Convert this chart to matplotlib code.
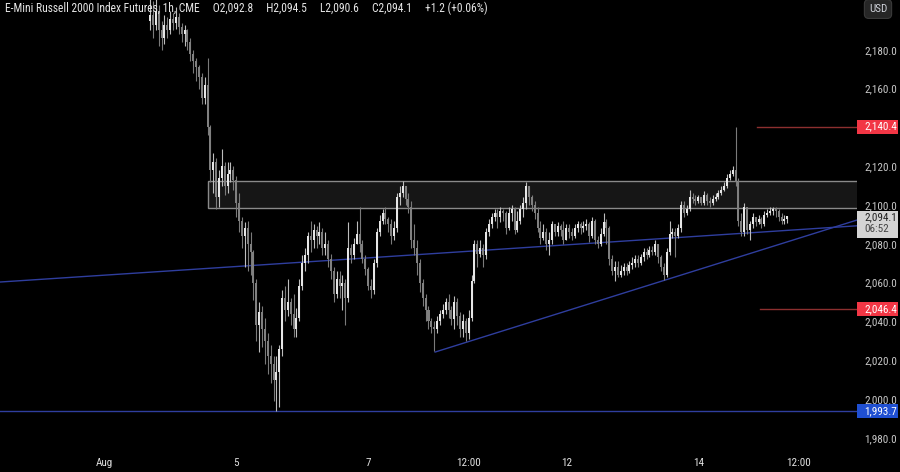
import matplotlib
matplotlib.use("Agg")
import matplotlib.pyplot as plt
from matplotlib.patches import Rectangle

# chart texts
title = "E-Mini Russell 2000 Index Futures, 1h, CME     O2,092.8     H2,094.5     L2,090.6     C2,094.1     +1.2 (+0.06%)"
x_tick_pos = [-16, 30, 76, 111, 145, 191, 226]
x_tick_labels = ["Aug", "5", "7", "12:00", "12", "14", "12:00"]
y_ticks = [1980, 2000, 2020, 2040, 2060, 2080, 2100, 2120, 2140, 2160, 2180]

# hourly candles (open of each bar = close of the bar before)
first_open = 2195.0
closes = [
    2198, 2193, 2200, 2190, 2186, 2193, 2190, 2196, 2194, 2197,
    2192, 2188, 2190, 2184, 2178, 2174, 2171, 2166, 2155, 2162,
    2140, 2118, 2122, 2104, 2114, 2120, 2110, 2116, 2118, 2113,
    2101, 2092, 2084, 2088, 2080, 2076, 2060, 2038, 2045, 2036,
    2030, 2022, 2018, 2010, 2014, 2026, 2052, 2046, 2050, 2044,
    2036, 2042, 2058, 2070, 2074, 2084, 2082, 2087, 2084, 2086,
    2078, 2080, 2072, 2066, 2054, 2062, 2058, 2060, 2052, 2078,
    2074, 2080, 2085, 2080, 2072, 2067, 2058, 2056, 2070, 2086,
    2092, 2096, 2093, 2090, 2084, 2088, 2104, 2106, 2110, 2103,
    2099, 2082, 2078, 2070, 2060, 2052, 2046, 2040, 2037, 2036,
    2040, 2044, 2046, 2050, 2046, 2041, 2050, 2043, 2036, 2040,
    2034, 2042, 2061, 2080, 2075, 2078, 2074, 2086, 2090, 2094,
    2096, 2094, 2097, 2096, 2088, 2096, 2098, 2087, 2092, 2098,
    2101, 2110, 2104, 2100, 2096, 2088, 2083, 2086, 2080, 2082,
    2090, 2086, 2089, 2087, 2082, 2088, 2086, 2084, 2088, 2090,
    2088, 2089, 2090, 2084, 2092, 2082, 2080, 2085, 2091, 2088,
    2072, 2066, 2068, 2064, 2066, 2068, 2066, 2069, 2070, 2072,
    2070, 2073, 2076, 2074, 2077, 2076, 2080, 2073, 2068, 2064,
    2076, 2085, 2086, 2084, 2088, 2100, 2096, 2098, 2104, 2103,
    2102, 2104, 2101, 2105, 2102, 2101, 2103, 2104, 2106, 2108,
    2110, 2114, 2116, 2118, 2112, 2092, 2086, 2099, 2087, 2090,
    2094, 2091, 2093, 2090, 2095, 2096, 2097, 2098, 2097, 2094,
    2092, 2092.8, 2094.1,
]
highs = [
    2206, 2205, 2206, 2203, 2195, 2198, 2197, 2200, 2199, 2202,
    2199, 2194, 2193, 2191, 2186, 2180, 2176, 2172, 2168, 2166,
    2176, 2141, 2127, 2124, 2118, 2129, 2122, 2122, 2122, 2120,
    2115, 2106, 2094, 2091, 2092, 2086, 2077, 2062, 2050, 2048,
    2042, 2034, 2028, 2022, 2022, 2028, 2056, 2058, 2062, 2052,
    2054, 2047, 2062, 2074, 2078, 2086, 2092, 2090, 2089, 2091,
    2088, 2086, 2082, 2075, 2068, 2066, 2066, 2064, 2062, 2091,
    2080, 2083, 2092, 2099, 2082, 2074, 2068, 2062, 2072, 2088,
    2095, 2098, 2099, 2094, 2093, 2092, 2106, 2110, 2112.5, 2110,
    2106, 2102, 2090, 2082, 2072, 2062, 2054, 2048, 2042, 2040,
    2043, 2046, 2049, 2052, 2054, 2048, 2053, 2052, 2045, 2044,
    2042, 2046, 2064, 2082, 2082, 2082, 2080, 2088, 2093, 2096,
    2098, 2098, 2099, 2098, 2097, 2099, 2100, 2099, 2097, 2100,
    2104, 2112, 2110, 2105, 2102, 2099, 2092, 2090, 2088, 2086,
    2092, 2090, 2091, 2090, 2092, 2090, 2090, 2088, 2090, 2092,
    2091, 2092, 2093, 2091, 2094, 2093, 2084, 2088, 2096, 2093,
    2089, 2074, 2071, 2071, 2069, 2070, 2070, 2071, 2073, 2074,
    2074, 2075, 2078, 2078, 2079, 2079, 2082, 2080, 2074, 2070,
    2078, 2092, 2088, 2088, 2090, 2102, 2102, 2100, 2108, 2106,
    2105, 2105, 2104, 2107, 2106, 2104, 2105, 2106, 2108, 2110,
    2112, 2116, 2118, 2120, 2140.4, 2114, 2096, 2101, 2099, 2092,
    2096, 2094, 2095, 2094, 2097, 2098, 2099, 2099, 2099, 2098,
    2096, 2095, 2094.5,
]
lows = [
    2190, 2186, 2190, 2182, 2180, 2183, 2186, 2188, 2190, 2191,
    2188, 2184, 2182, 2180, 2174, 2168, 2164, 2160, 2152, 2152,
    2136, 2112, 2106, 2098, 2099, 2110, 2105, 2106, 2112, 2108,
    2094, 2086, 2078, 2068, 2066, 2064, 2051, 2030, 2024, 2027,
    2018, 2013, 2008, 1999, 1993.7, 1996, 2022, 2040, 2043, 2038,
    2032, 2032, 2040, 2056, 2066, 2070, 2076, 2078, 2078, 2080,
    2074, 2074, 2068, 2062, 2050, 2052, 2052, 2046, 2038, 2050,
    2070, 2072, 2080, 2076, 2070, 2064, 2056, 2052, 2054, 2068,
    2084, 2090, 2090, 2086, 2080, 2082, 2086, 2100, 2104, 2100,
    2096, 2078, 2074, 2064, 2055, 2048, 2040, 2036, 2034, 2024.5,
    2034, 2038, 2042, 2044, 2042, 2038, 2036, 2038, 2032, 2032,
    2030, 2031, 2040, 2060, 2068, 2073, 2068, 2072, 2084, 2088,
    2092, 2088, 2091, 2092, 2085, 2087, 2092, 2085, 2086, 2090,
    2094, 2098, 2100, 2097, 2093, 2086, 2080, 2082, 2077, 2074,
    2080, 2084, 2084, 2084, 2080, 2082, 2083, 2082, 2083, 2086,
    2085, 2086, 2087, 2081, 2083, 2080, 2078, 2079, 2084, 2080,
    2069, 2064, 2061, 2063, 2063, 2064, 2064, 2065, 2067, 2068,
    2068, 2069, 2071, 2072, 2073, 2074, 2074, 2070, 2066, 2061.3,
    2063, 2074, 2083, 2073, 2083, 2086, 2094, 2095, 2097, 2101,
    2100, 2101, 2100, 2100, 2100, 2099, 2100, 2102, 2103, 2105,
    2107, 2109, 2113, 2115, 2110, 2089, 2084, 2084, 2085, 2082,
    2088, 2089, 2090, 2088, 2089, 2094, 2095, 2095, 2094, 2092,
    2090, 2090, 2090.6,
]
opens = [first_open] + closes[:-1]

# drawings on the chart
zone_low, zone_high, zone_start = 2098.5, 2112.5, 20
red_levels = [2140.4, 2046.4]
red_starts = [211.5, 212.5]
support_level = 1993.7
flat_line = [(-52.3, 2060.3), (156.8, 2080.6)]
rising_line = [(99.3, 2024.2), (179.0, 2061.1)]
last_price = 2094.1
countdown = "06:52"

BG = "#000000"
UP = "#e6e6e6"
DOWN = "#808080"
TXT = "#d1d4dc"
BLUE = "#2f3e9e"
RED_LINE = "#8c2f2f"
RED_TAG = "#f23645"
BLUE_TAG = "#1f4fd1"
FONT = ["Roboto Condensed", "DejaVu Sans"]

x_min, x_max = -52.3, 246.3
y_min, y_max = 1973.7, 2205.7

fig = plt.figure(figsize=(9, 4.72), dpi=100, facecolor=BG)
ax = fig.add_axes([0, 22 / 472, 857 / 900, 450 / 472], facecolor=BG)

# reference drawings
ax.add_patch(Rectangle((zone_start, zone_low), 400, zone_high - zone_low,
                       facecolor="#161616", edgecolor="#8a8a8a", lw=1, zorder=1))
for lvl, st in zip(red_levels, red_starts):
    ax.plot([st, x_max + 5], [lvl, lvl], color=RED_LINE, lw=1, zorder=1)
ax.axhline(support_level, color=BLUE, lw=1, zorder=1)

(fx0, fy0), (fx1, fy1) = flat_line
k = (fy1 - fy0) / (fx1 - fx0)
ax.plot([fx0, x_max + 5], [fy0, fy0 + k * (x_max + 5 - fx0)], color=BLUE, lw=1, zorder=1)
(rx0, ry0), (rx1, ry1) = rising_line
k = (ry1 - ry0) / (rx1 - rx0)
ax.plot([rx0, x_max + 5], [ry0, ry0 + k * (x_max + 5 - rx0)], color=BLUE, lw=1, zorder=1)

# candles
idx = list(range(len(closes)))
colors = [UP if c >= o else DOWN for o, c in zip(opens, closes)]
wick_colors = ["#bdbdbd" if c >= o else "#7a7a7a" for o, c in zip(opens, closes)]
ax.vlines(idx, lows, highs, colors=wick_colors, lw=0.8, zorder=2)
bottoms = [min(o, c) for o, c in zip(opens, closes)]
heights = [max(abs(c - o), 0.5) for o, c in zip(opens, closes)]
ax.bar(idx, heights, bottom=bottoms, width=0.7, color=colors, lw=0, zorder=3)

ax.set_xlim(x_min, x_max)
ax.set_ylim(y_min, y_max)
for s in ax.spines.values():
    s.set_visible(False)

ax.set_xticks(x_tick_pos)
ax.set_xticklabels(x_tick_labels, fontsize=8, color="#e0e0e0", family=FONT)
ax.yaxis.tick_right()
ax.set_yticks(y_ticks)
ax.set_yticklabels([f"{v:,.1f}" for v in y_ticks], fontsize=8, color="#c8c8c8",
                   family=FONT, ha="left")
ax.tick_params(axis="both", length=0)
ax.tick_params(axis="x", pad=6)
ax.tick_params(axis="y", pad=5)

# price tags on the right axis
tr = ax.get_yaxis_transform()
tag_w = 41 / 857
tag_h = 7.2


def tag(price, text, fc, tc):
    ax.add_patch(Rectangle((1.0, price - tag_h / 2), tag_w, tag_h, transform=tr,
                           facecolor=fc, edgecolor="none", clip_on=False, zorder=5))
    ax.text(1.0 + 7 / 857, price, text, transform=tr, color=tc, fontsize=8,
            family=FONT, va="center", ha="left", clip_on=False, zorder=6)


for lvl in red_levels:
    tag(lvl, f"{lvl:,.1f}", RED_TAG, "white")
tag(support_level, f"{support_level:,.1f}", BLUE_TAG, "white")

ax.add_patch(Rectangle((1.0, last_price - 11.0), tag_w, 13.9, transform=tr,
                       facecolor="#d4d4d4", edgecolor="none", clip_on=False, zorder=5))
ax.text(1.0 + 7 / 857, last_price - 0.3, f"{last_price:,.1f}", transform=tr,
        color="#222222", fontsize=8, family=FONT, va="center", ha="left",
        clip_on=False, zorder=6)
ax.text(1.0 + 7 / 857, last_price - 6.6, countdown, transform=tr,
        color="#444444", fontsize=8, family=FONT, va="center", ha="left",
        clip_on=False, zorder=6)

fig.text(878 / 900, 1 - 9 / 472, "USD", color=TXT, fontsize=8, family=FONT,
         ha="center", va="center",
         bbox=dict(boxstyle="round,pad=0.4", fc="#262626", ec="#3a3a3a", lw=0.8))

fig.text(5 / 900, 1 - 8 / 472, title, color="#e6e6e6", fontsize=8.3, family=FONT,
         ha="left", va="center")

fig.savefig("out.png", dpi=100, facecolor=BG)
